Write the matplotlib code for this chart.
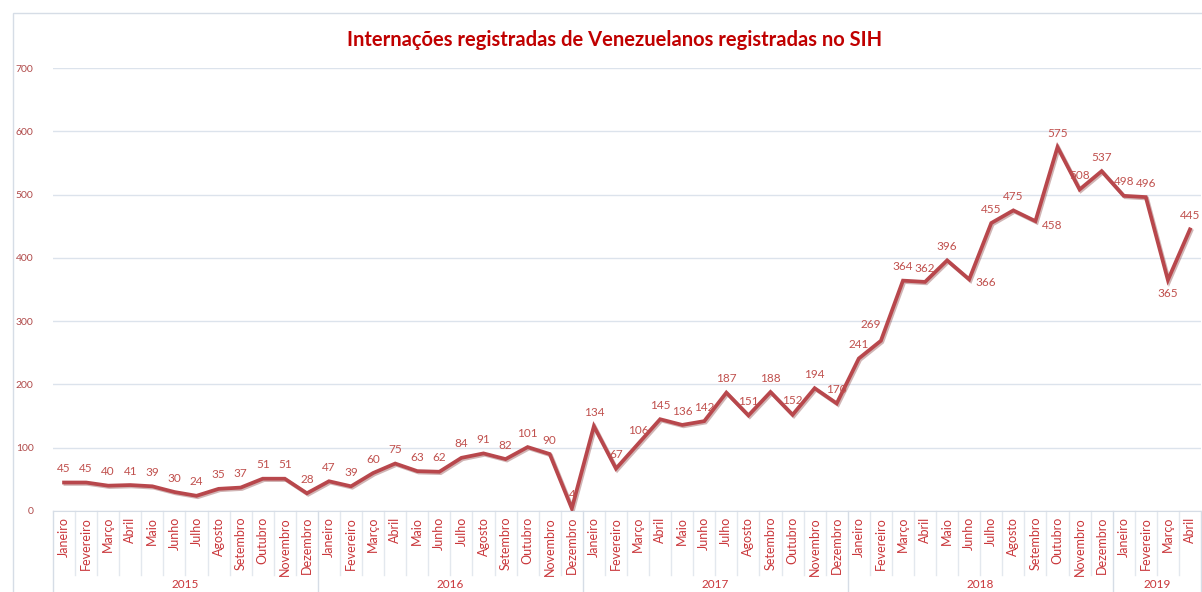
import matplotlib.pyplot as plt
import matplotlib.patheffects as pe
from matplotlib.transforms import blended_transform_factory

plt.rcParams['font.family'] = ['Lato', 'DejaVu Sans']

meses = ["Janeiro", "Fevereiro", "Março", "Abril", "Maio", "Junho", "Julho",
         "Agosto", "Setembro", "Outubro", "Novembro", "Dezembro"]
anos = ["2015", "2016", "2017", "2018", "2019"]
meses_por_ano = [12, 12, 12, 12, 4]

v2015 = [45, 45, 40, 41, 39, 30, 24, 35, 37, 51, 51, 28]
v2016 = [47, 39, 60, 75, 63, 62, 84, 91, 82, 101, 90, 4]
v2017 = [134, 67, 106, 145, 136, 142, 187, 151, 188, 152, 194, 170]
v2018 = [241, 269, 364, 362, 396, 366, 455, 475, 458, 575, 508, 537]
v2019 = [498, 496, 365, 445]

valores = v2015 + v2016 + v2017 + v2018 + v2019
rotulos = []
for n in meses_por_ano:
    rotulos += meses[:n]
x = list(range(len(valores)))

# label offsets in points (default is above the point)
desloc = {37: (-7, 12), 41: (12, -2), 44: (12, -3), 50: (0, -10)}

linha_cor = "#b8474c"
texto_cor = "#c0504d"

fig = plt.figure(figsize=(12.02, 5.92), dpi=100)
# outer chart border
fig.patches.append(plt.Rectangle((13 / 1202, -0.1), 1.2, 1 - 13 / 592 + 0.1,
                                 transform=fig.transFigure, fill=False,
                                 edgecolor="#d6dde6", lw=1))
ax = fig.add_axes([53 / 1202, (592 - 511) / 592, 1148 / 1202, 443 / 592])
ax.set_xlim(-0.5, len(valores) - 0.5)
ax.set_ylim(0, 700)
ax.set_yticks(range(0, 701, 100))
ax.yaxis.grid(True, color="#dce3ec", lw=1)
ax.set_axisbelow(True)
for s in ["top", "right", "left"]:
    ax.spines[s].set_visible(False)
ax.spines["bottom"].set_color("#d6dde6")
ax.tick_params(axis="y", length=0, pad=14, labelsize=7.5, labelcolor="#b04a4a")
ax.set_xticks([])

ax.plot(x, valores, color=linha_cor, lw=2.7, solid_joinstyle="miter",
        path_effects=[pe.SimpleLineShadow(offset=(1, -1), shadow_color="#7a2a2a", alpha=0.35),
                      pe.Normal()])

for i, v in enumerate(valores):
    dx, dy = desloc.get(i, (0, 10))
    ax.annotate(str(v), (i, v), xytext=(dx, dy), textcoords="offset points",
                ha="center", va="center", fontsize=8.5, color=texto_cor)

# multi-level category axis
tr = blended_transform_factory(ax.transData, ax.transAxes)
sep_mes = -64 / 443
sep_ano = -90 / 443
for i, r in enumerate(rotulos):
    ax.text(i, -6 / 443, r, transform=tr, rotation=90, ha="center", va="top",
            fontsize=9, color="#c9363a")
inicio = 0
ax.plot([-0.5, -0.5], [0, sep_ano], transform=tr, color="#d6dde6", lw=1, clip_on=False)
for a, n in zip(anos, meses_por_ano):
    for k in range(inicio + 1, inicio + n):
        ax.plot([k - 0.5, k - 0.5], [0, sep_mes], transform=tr, color="#e3e8ee",
                lw=1, clip_on=False)
    fim = inicio + n
    ax.plot([fim - 0.5, fim - 0.5], [0, sep_ano], transform=tr, color="#d6dde6",
            lw=1, clip_on=False)
    ax.text((inicio + fim - 1) / 2, -73 / 443, a, transform=tr, ha="center",
            va="center", fontsize=8.5, color="#c9363a")
    inicio = fim

fig.text(615 / 1202, 1 - 40 / 592, "Internações registradas de Venezuelanos registradas no SIH",
         ha="center", va="center", fontsize=14.5, fontweight="bold", color="#c00000")

fig.savefig("out.png", dpi=100)
